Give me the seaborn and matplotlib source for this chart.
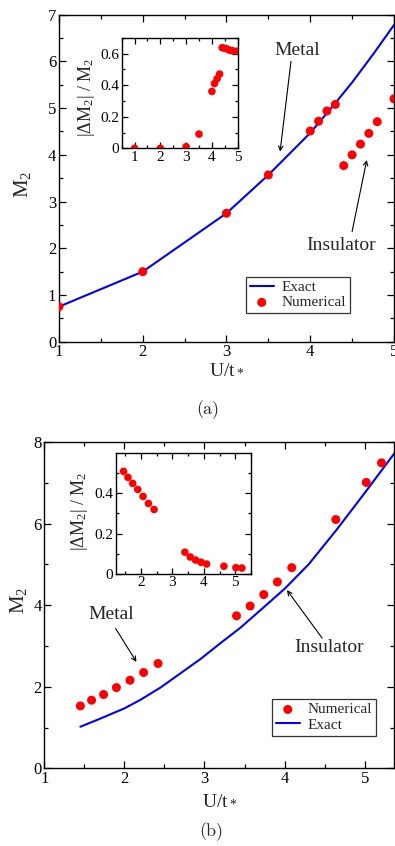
import numpy as np
import pandas as pd
import matplotlib
matplotlib.use("Agg")
import matplotlib.pyplot as plt
import seaborn as sns
from matplotlib.ticker import MultipleLocator

# ---- panel (a) data ----
a_exact_x = [1.0, 2.0, 3.0, 3.5, 4.0, 4.25, 4.5, 4.75, 5.0]
a_exact_y = [0.75, 1.5, 2.75, 3.57, 4.47, 5.0, 5.55, 6.15, 6.78]
a_num_x = [1.0, 2.0, 3.0, 3.5, 4.0, 4.1, 4.2, 4.3, 4.4, 4.5, 4.6, 4.7, 4.8, 5.0]
a_num_y = [0.75, 1.5, 2.75, 3.57, 4.51, 4.72, 4.94, 5.08, 3.77, 4.0, 4.23, 4.46, 4.71, 5.2]
a_err_y = [0.0, 0.0, 0.01, 0.09, 0.36, 0.41, 0.44, 0.47, 0.637, 0.633, 0.628, 0.62, 0.618, 0.616]

# ---- panel (b) data ----
b_exact_x = [1.45, 1.7, 2.0, 2.2, 2.45, 2.7, 2.95, 3.2, 3.45, 3.7, 4.0, 4.3, 4.65, 5.0, 5.37]
b_exact_y = [1.02, 1.22, 1.47, 1.68, 1.98, 2.33, 2.68, 3.07, 3.45, 3.88, 4.4, 5.0, 5.85, 6.75, 7.72]
b_num_x = [1.45, 1.59, 1.74, 1.90, 2.07, 2.24, 2.42, 3.40, 3.57, 3.74, 3.91, 4.09, 4.64, 5.02, 5.21]
b_num_y = [1.53, 1.67, 1.81, 1.98, 2.16, 2.35, 2.57, 3.74, 3.98, 4.26, 4.57, 4.92, 6.10, 7.01, 7.49]
b_err_y = [0.51, 0.48, 0.45, 0.42, 0.385, 0.35, 0.32, 0.107, 0.083, 0.068, 0.057, 0.048, 0.037, 0.03, 0.028]

sns.set_style("ticks")
plt.rcParams["font.family"] = ["Liberation Serif", "DejaVu Serif"]
plt.rcParams["mathtext.fontset"] = "custom"
plt.rcParams["mathtext.rm"] = "Liberation Serif"
plt.rcParams["mathtext.it"] = "Liberation Serif:italic"
plt.rcParams["mathtext.default"] = "rm"
plt.rcParams["axes.linewidth"] = 1.0
plt.rcParams["axes.edgecolor"] = "black"

RED = "#ff0000"
BLUE = "#0000ff"


def style_axes(ax, fs, major=4, minor=2):
    ax.tick_params(which="both", direction="in", top=True, right=True,
                   labelsize=fs, colors="black", width=0.9, pad=2)
    ax.tick_params(which="major", length=major)
    ax.tick_params(which="minor", length=minor)
    for s in ax.spines.values():
        s.set_visible(True)
        s.set_color("black")


def arrow(ax, start, tip):
    ax.annotate("", xy=tip, xytext=start,
                arrowprops=dict(arrowstyle="->", lw=0.8, color="black",
                                mutation_scale=8, shrinkA=0, shrinkB=0))


fig = plt.figure(figsize=(3.95, 8.46), dpi=100)

# ================= panel (a) =================
ax1 = fig.add_axes([0.1494, 0.5961, 0.848, 0.3865])
sns.lineplot(x=a_exact_x, y=a_exact_y, color=BLUE, lw=1.5, ax=ax1, label="Exact", sort=False)
sns.scatterplot(x=a_num_x, y=a_num_y, color=RED, s=42, edgecolor="none", ax=ax1,
                label="Numerical", zorder=3)
ax1.set_xlim(1, 5)
ax1.set_ylim(0, 7)
ax1.xaxis.set_major_locator(MultipleLocator(1))
ax1.xaxis.set_minor_locator(MultipleLocator(0.5))
ax1.yaxis.set_major_locator(MultipleLocator(1))
ax1.yaxis.set_minor_locator(MultipleLocator(0.5))
style_axes(ax1, 12, 5, 3)
ax1.set_xlabel("U/t$_*$", fontsize=14)
ax1.set_ylabel("M$_2$", fontsize=15)
ax1.xaxis.set_label_coords(0.50, -0.06)
ax1.yaxis.set_label_coords(-0.078, 0.48)
h, l = ax1.get_legend_handles_labels()
ax1.legend(h, l, loc="upper left", bbox_to_anchor=(0.622, 0.673),
           bbox_transform=fig.transFigure, fontsize=11, frameon=True,
           fancybox=False, edgecolor="#333333", framealpha=1,
           handlelength=1.6, handletextpad=0.5, borderpad=0.25,
           labelspacing=0.1, borderaxespad=0)
ax1.get_legend().get_frame().set_linewidth(0.9)

ax1.text(3.85, 6.23, "Metal", fontsize=14, ha="center", va="center")
arrow(ax1, (3.77, 6.0), (3.64, 4.07))
ax1.text(4.37, 2.07, "Insulator", fontsize=14, ha="center", va="center")
arrow(ax1, (4.50, 2.36), (4.675, 3.89))

# inset (a)
in1 = fig.add_axes([0.308, 0.8247, 0.2937, 0.1307])
sns.scatterplot(x=a_num_x, y=a_err_y, color=RED, s=30, edgecolor="none", ax=in1,
                legend=False, zorder=3)
in1.set_xlim(0.5, 5)
in1.set_ylim(0, 0.7)
in1.set_xticks([1, 2, 3, 4, 5])
in1.xaxis.set_minor_locator(MultipleLocator(0.5))
in1.set_yticks([0, 0.2, 0.4, 0.6])
in1.set_yticklabels(["0", "0.2", "0.4", "0.6"])
in1.yaxis.set_minor_locator(MultipleLocator(0.1))
style_axes(in1, 11, 4, 2)
in1.set_ylabel(r"|$\Delta$M$_2$| / M$_2$", fontsize=13)
in1.yaxis.set_label_coords(-0.21, 0.46)

fig.text(0.527, 0.5154, "(a)", fontsize=13, family="cmr10", ha="center", va="center")

# ================= panel (b) =================
ax2 = fig.add_axes([0.1122, 0.0918, 0.886, 0.3857])
sns.scatterplot(x=b_num_x, y=b_num_y, color=RED, s=42, edgecolor="none", ax=ax2,
                label="Numerical", zorder=3)
sns.lineplot(x=b_exact_x, y=b_exact_y, color=BLUE, lw=1.5, ax=ax2, label="Exact", sort=False)
ax2.set_xlim(1, 5.37)
ax2.set_ylim(0, 8)
ax2.xaxis.set_major_locator(MultipleLocator(1))
ax2.xaxis.set_minor_locator(MultipleLocator(0.5))
ax2.yaxis.set_major_locator(MultipleLocator(2))
ax2.yaxis.set_minor_locator(MultipleLocator(1))
style_axes(ax2, 12, 5, 3)
ax2.set_xlabel("U/t$_*$", fontsize=14)
ax2.set_ylabel("M$_2$", fontsize=15)
ax2.xaxis.set_label_coords(0.50, -0.072)
ax2.yaxis.set_label_coords(-0.045, 0.516)
h, l = ax2.get_legend_handles_labels()
order = [l.index("Numerical"), l.index("Exact")]
ax2.legend([h[i] for i in order], [l[i] for i in order], loc="upper left",
           bbox_to_anchor=(0.688, 0.1738), bbox_transform=fig.transFigure,
           fontsize=11, frameon=True, fancybox=False, edgecolor="#333333",
           framealpha=1, handlelength=1.6, handletextpad=0.5, borderpad=0.25,
           labelspacing=0.1, borderaxespad=0)
ax2.get_legend().get_frame().set_linewidth(0.9)

ax2.text(1.84, 3.76, "Metal", fontsize=14, ha="center", va="center")
arrow(ax2, (1.89, 3.43), (2.15, 2.61))
ax2.text(4.56, 2.97, "Insulator", fontsize=14, ha="center", va="center")
arrow(ax2, (4.47, 3.19), (4.03, 4.37))

# inset (b)
in2 = fig.add_axes([0.2929, 0.3219, 0.3425, 0.1423])
sns.scatterplot(x=b_num_x, y=b_err_y, color=RED, s=30, edgecolor="none", ax=in2,
                legend=False, zorder=3)
in2.set_xlim(1.2, 5.5)
in2.set_ylim(0, 0.6)
in2.set_xticks([2, 3, 4, 5])
in2.xaxis.set_minor_locator(MultipleLocator(0.5))
in2.set_yticks([0, 0.2, 0.4])
in2.set_yticklabels(["0", "0.2", "0.4"])
in2.set_yticks([0.1, 0.3, 0.5], minor=True)
style_axes(in2, 11, 4, 2)
in2.set_ylabel(r"|$\Delta$M$_2$| / M$_2$", fontsize=13)
in2.yaxis.set_label_coords(-0.19, 0.52)

fig.text(0.536, 0.0169, "(b)", fontsize=13, family="cmr10", ha="center", va="center")

fig.savefig("out.png", dpi=100)
